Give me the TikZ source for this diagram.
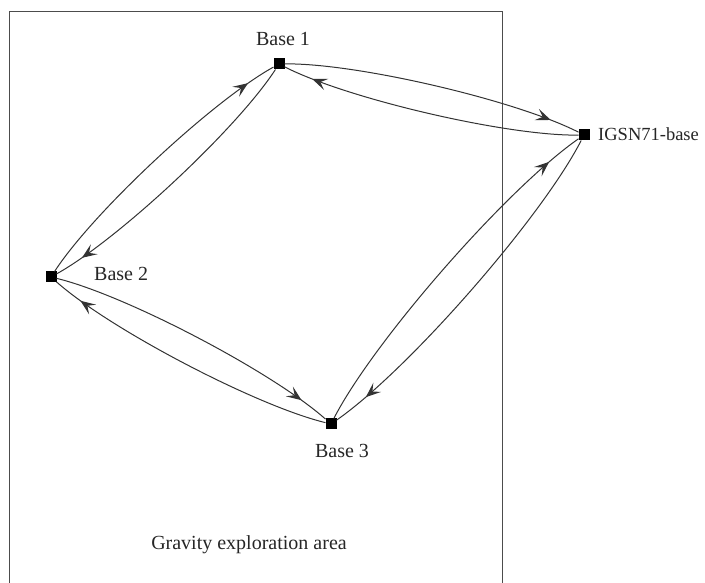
\documentclass[tikz,border=0pt]{standalone}
\usepackage{fontspec}
\setmainfont{Liberation Serif}
\usetikzlibrary{arrows.meta,decorations.markings}
\begin{document}
\begin{tikzpicture}[x=1pt,y=1pt,
  base/.style={fill=black, minimum size=11pt, inner sep=0pt, outer sep=0pt},
  lbl/.style={font=\fontsize{20}{24}\selectfont, inner sep=0pt, text=black!85},
  leg/.style={draw=black!80, line width=1pt, bend left=14, looseness=0.6,
    postaction={decorate},
    decoration={markings, mark=at position 0.9 with {\arrow{Stealth[length=15pt,width=12pt,inset=6.5pt]}}}},
  frame/.style={draw=black!70, line width=0.8pt}
]
\useasboundingbox (0,0) rectangle (705,583);
\draw[frame] (9,0) -- (9,572) -- (502,572) -- (502,0);

\node[base] (b1) at (279,519) {};
\node[base] (ig) at (584,448) {};
\node[base] (b2) at (51,306) {};
\node[base] (b3) at (331,159) {};

\node[lbl] (l1) at (283,544) {Base 1};
\node[lbl, anchor=west, font=\fontsize{18.5}{22}\selectfont] (lig) at (598,449) {IGSN71-base};
\node[lbl, anchor=west] (l2) at (94,309) {Base 2};
\node[lbl] (l3) at (342,132) {Base 3};
\node[lbl] (area) at (249,38) {Gravity exploration area};

\draw[leg] (b1) to (ig);
\draw[leg] (ig) to (b1);
\draw[leg] (b2) to (b1);
\draw[leg] (b1) to (b2);
\draw[leg] (b2) to (b3);
\draw[leg] (b3) to (b2);
\draw[leg] (b3) to (ig);
\draw[leg] (ig) to (b3);
\end{tikzpicture}
\end{document}
